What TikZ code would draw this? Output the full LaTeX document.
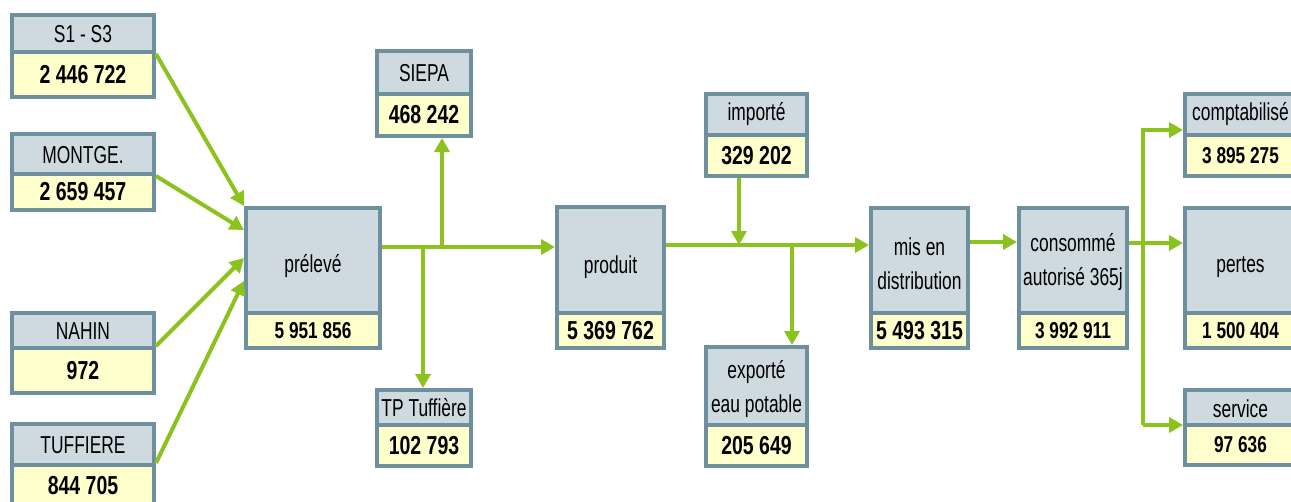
\documentclass[tikz,border=0pt]{standalone}
\usepackage{fontspec}
\setmainfont{Liberation Sans}
\newfontfamily\hdrfam{Liberation Sans}[FakeStretch=0.71]
\newfontfamily\valfam{Liberation Sans}[FakeStretch=0.75]
\usetikzlibrary{arrows.meta}
\definecolor{bord}{HTML}{6E909E}
\definecolor{hfill}{HTML}{CFDAE0}
\definecolor{vfill}{HTML}{FFFFCC}
\definecolor{grn}{HTML}{8CC21E}
\newcommand\hdrfont{\hdrfam\fontsize{24.5}{34}\selectfont}
\newcommand\valfont{\valfam\fontsize{26}{30}\selectfont\bfseries}
\newcommand\valsm{\fontsize{23}{26}\selectfont}
\tikzset{
  hdr/.style={draw=bord, fill=hfill, line width=4pt, inner sep=0pt},
  hdrtxt/.style={inner sep=0pt, align=center, font=\hdrfont},
  val/.style={draw=bord, fill=vfill, line width=4pt, inner sep=0pt, font=\valfont},
  flow/.style={draw=grn, line width=4pt, -{Triangle[length=14pt,width=15pt]}}
}
\newcommand\twobox[9]{%
  \node[hdr, minimum width={(#3)-(#2)}, minimum height={(#5)-(#4)}] (#1h) at ({((#2)+(#3))/2},{((#4)+(#5))/2}) {};
  \node[hdrtxt, yshift={-(#9)}] (#1t) at (#1h.center) {#7};
  \node[val, minimum width={(#3)-(#2)}, minimum height={(#6)-(#5)}] (#1v) at ({((#2)+(#3))/2},{((#5)+(#6))/2}) {#8};
}
\begin{document}
\begin{tikzpicture}[x=1pt,y=-1pt]
\clip (0,0) rectangle (1291,501);
\fill[white] (0,0) rectangle (1291,501);
% boxes
\twobox{s1}{12}{154}{15}{52}{97}{S1 - S3}{2 446 722}{1}
\twobox{mo}{12}{154}{134}{174}{210}{MONTGE.}{2 659 457}{1}
\twobox{na}{12}{154}{313}{348}{393}{NAHIN}{972}{1}
\twobox{tu}{12}{154}{424}{465}{507}{TUFFIERE}{844 705}{1}
\twobox{pr}{246}{380}{208}{313}{348}{prélevé}{\valsm 5 951 856}{6}
\twobox{si}{377}{471}{51}{94}{136}{SIEPA}{468 242}{1}
\twobox{tp}{377}{471}{390}{425}{466}{TP Tuffière}{102 793}{0}
\twobox{pd}{557}{664}{207}{313}{348}{produit}{5 369 762}{7}
\twobox{im}{706}{807}{94}{135}{176}{importé}{329 202}{0}
\twobox{ex}{706}{807}{347}{425}{466}{exporté\\eau potable}{205 649}{3}
\twobox{mi}{871}{968}{208}{313}{348}{mis en\\distribution}{5 493 315}{3}
\twobox{co}{1019}{1127}{208}{313}{348}{consommé\\autorisé 365j}{\valsm 3 992 911}{2}
\twobox{cp}{1185}{1296}{94}{135}{176}{comptabilisé}{\valsm 3 895 275}{0}
\twobox{pe}{1185}{1296}{208}{313}{348}{pertes}{\valsm 1 500 404}{7}
\twobox{se}{1185}{1296}{390}{425}{465}{service}{\valsm 97 636}{1}
% inflows
\draw[flow] (s1h.south east) -- (prh.north west);
\draw[flow] (moh.south east) -- ([yshift=-24pt]prh.north west);
\draw[flow] (nav.north east) -- ([yshift=-52pt]prh.north west);
\draw[flow] (tuv.north east) -- ([yshift=-75pt]prh.north west);
% main line
\coordinate (j1) at (442,247);
\coordinate (j2) at (423,247);
\draw[flow] (prh.east |- j1) -- (pdh.west |- j1);
\draw[flow] (j1) -- (j1 |- siv.south);
\draw[flow] (j2) -- (j2 |- tph.north);
\coordinate (j3) at (739,245);
\coordinate (j4) at (792,245);
\draw[flow] (pdh.east |- j3) -- (mih.west |- j3);
\draw[flow] (j3 |- imv.south) -- (j3);
\draw[flow] (j4) -- (j4 |- exh.north);
\coordinate (j5) at (990,242);
\draw[flow] (mih.east |- j5) -- (coh.west |- j5);
\coordinate (j6) at (1143,243);
\coordinate (c1) at (1143,130);
\coordinate (c2) at (1143,425);
\draw[flow] (coh.east |- j6) -- (peh.west |- j6);
\draw[flow] (c2) -- (c1) -- (cph.west |- c1);
\draw[flow] (c2) -- (seh.west |- c2);
\end{tikzpicture}
\end{document}
